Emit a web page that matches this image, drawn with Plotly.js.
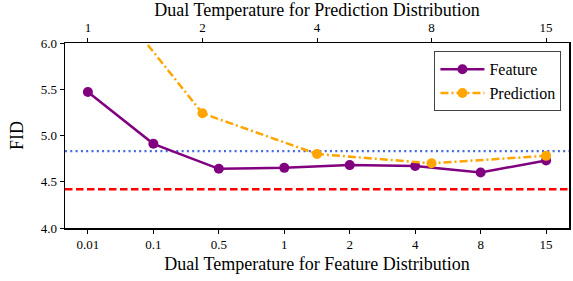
<!DOCTYPE html>
<html><head><meta charset="utf-8">
<script src="https://cdn.plot.ly/plotly-3.0.1.min.js"></script>
<style>html,body{margin:0;padding:0;background:#fff}#c{width:573px;height:281px}</style>
</head><body><div id="c"></div>
<script>
const featureTemps = ['0.01','0.1','0.5','1','2','4','8','15'];
const featureFID = [5.47, 4.91, 4.64, 4.65, 4.68, 4.67, 4.60, 4.73];
const predTemps = ['1','2','4','8','15'];
const predFID = [6.79, 5.24, 4.80, 4.70, 4.78];
const blueRef = 4.83;
const redRef = 4.42;

const font = '"Liberation Serif", "Times New Roman", serif';
const traces = [
  {x: featureTemps, y: featureFID, name: 'Feature', xaxis: 'x', yaxis: 'y', mode: 'lines+markers',
   line: {color: '#800080', width: 2.5}, marker: {color: '#800080', size: 10}, cliponaxis: true},
  {x: predTemps, y: predFID, name: 'Prediction', xaxis: 'x2', yaxis: 'y', mode: 'lines+markers',
   line: {color: '#FFA500', width: 2.5, dash: '8px,3px,2px,3px'}, marker: {color: '#FFA500', size: 10}, cliponaxis: true}
];
const layout = {
  width: 573, height: 281,
  margin: {l: 65, r: 4, t: 43, b: 53},
  paper_bgcolor: '#fff', plot_bgcolor: '#fff',
  font: {family: font, color: '#000', size: 13},
  showlegend: true,
  legend: {x: 0.985, y: 0.955, xanchor: 'right', yanchor: 'top', bordercolor: '#444', borderwidth: 1,
    bgcolor: 'rgba(255,255,255,0.9)', font: {family: font, size: 16, color: '#000'}, itemwidth: 44, tracegroupgap: 0},
  xaxis: {type: 'category', range: [-0.35, 7.35], showline: true, linecolor: '#000', linewidth: 1.5, mirror: false,
    ticks: 'outside', ticklen: 4, tickcolor: '#000', showgrid: false, zeroline: false,
    tickfont: {family: font, size: 13, color: '#000'},
    title: {text: 'Dual Temperature for Feature Distribution', font: {family: font, size: 18}, standoff: 6}},
  xaxis2: {type: 'category', range: [-0.2, 4.2], overlaying: 'x', side: 'top', showline: true, linecolor: '#000', linewidth: 1.5,
    ticks: 'outside', ticklen: 4, tickcolor: '#000', showgrid: false, zeroline: false,
    tickfont: {family: font, size: 13, color: '#000'},
    title: {text: 'Dual Temperature for Prediction Distribution', font: {family: font, size: 18}, standoff: 4}},
  yaxis: {range: [4.0, 6.0], tickvals: [4.0, 4.5, 5.0, 5.5, 6.0], ticktext: ['4.0','4.5','5.0','5.5','6.0'],
    showline: true, linecolor: '#000', linewidth: 1.5, mirror: true,
    ticks: 'outside', ticklen: 4, tickcolor: '#000', showgrid: false, zeroline: false,
    tickfont: {family: font, size: 13, color: '#000'},
    title: {text: 'FID', font: {family: font, size: 18}, standoff: 12}},
  shapes: [
    {type: 'line', xref: 'paper', x0: 0, x1: 1, yref: 'y', y0: blueRef, y1: blueRef,
     line: {color: '#4169E1', width: 2.2, dash: '2px,3.3px'}, layer: 'below'},
    {type: 'line', xref: 'paper', x0: 0, x1: 1, yref: 'y', y0: redRef, y1: redRef,
     line: {color: '#FF0000', width: 2.5, dash: '7.5px,3.5px'}, layer: 'below'}
  ]
};
Plotly.newPlot('c', traces, layout, {displayModeBar: false, staticPlot: true});
</script></body></html>
